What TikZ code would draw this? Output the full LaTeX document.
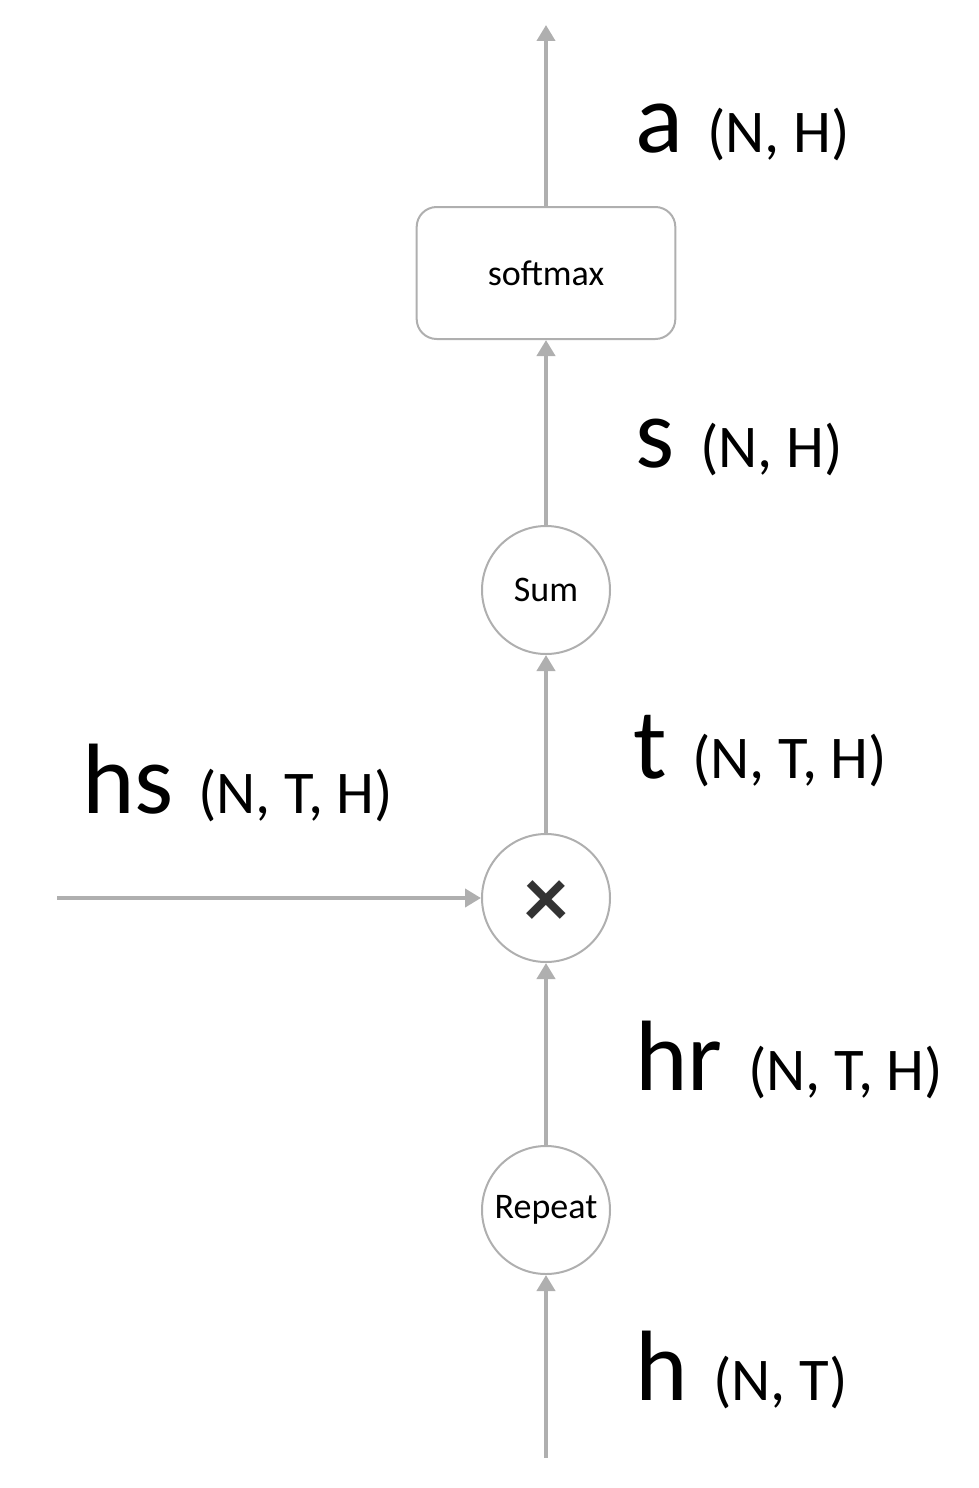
\documentclass[tikz,border=0pt]{standalone}
\usepackage{fontspec}
\setmainfont{Carlito}
\usepackage{xcolor}
\usetikzlibrary{arrows.meta,positioning}
\definecolor{linegray}{HTML}{AFAFAF}
\definecolor{markgray}{HTML}{333333}
\tikzset{
    flow/.style={draw=linegray, line width=3pt, -{Triangle[width=13.5pt,length=12pt]}},
    opnode/.style={circle, draw=linegray, line width=1.5pt, minimum size=96pt, inner sep=0pt, font=\fontsize{27}{30}\selectfont},
    boxnode/.style={rectangle, rounded corners=15pt, draw=linegray, line width=1.5pt, minimum width=194pt, minimum height=99pt, font=\fontsize{27}{30}\selectfont},
    varlbl/.style={anchor=base west, inner sep=0pt, font=\fontsize{75}{90}\selectfont},
    dimlbl/.style={anchor=base west, inner sep=0pt, font=\fontsize{45.5}{50}\selectfont}
}
\begin{document}
\begin{tikzpicture}[x=0.75pt, y=-0.75pt]
    \useasboundingbox (0,0) rectangle (978,1488);
    % Blocks
    \node[boxnode] (softmax) at (546,273) {softmax};
    \node[opnode] (sum) at (546,590) {Sum};
    \node[opnode, text=markgray, font=\fontsize{66}{66}\selectfont\bfseries] (mul) at (546,898) {\raisebox{-22pt}[0pt][0pt]{×}};
    \node[opnode] (repeat) at (546,1210) {Repeat};
    % Free ends
    \coordinate (out) at (546,25);
    \coordinate (in-h) at (546,1458);
    \coordinate (in-hs) at (57,898);
    % Connectors
    \draw[flow] (softmax) -- (out);
    \draw[flow] (sum) -- (softmax);
    \draw[flow] (mul) -- (sum);
    \draw[flow] (repeat) -- (mul);
    \draw[flow] (in-h) -- (repeat);
    \draw[flow] (in-hs) -- (mul);
    % Labels
    \node[varlbl] (a-lbl) at (635,152) {a};   \node[dimlbl] (a-dim) at (707,152) {(N, H)};
    \node[varlbl] (s-lbl) at (635,467) {s};   \node[dimlbl] (s-dim) at (700,467) {(N, H)};
    \node[varlbl] (t-lbl) at (633,778) {t};   \node[dimlbl] (t-dim) at (692,778) {(N, T, H)};
    \node[varlbl] (hs-lbl) at (82,813) {hs};  \node[dimlbl] (hs-dim) at (198,813) {(N, T, H)};
    \node[varlbl] (hr-lbl) at (635,1090) {hr}; \node[dimlbl] (hr-dim) at (748,1090) {(N, T, H)};
    \node[varlbl] (h-lbl) at (635,1400) {h};  \node[dimlbl] (h-dim) at (713,1400) {(N, T)};
\end{tikzpicture}
\end{document}
